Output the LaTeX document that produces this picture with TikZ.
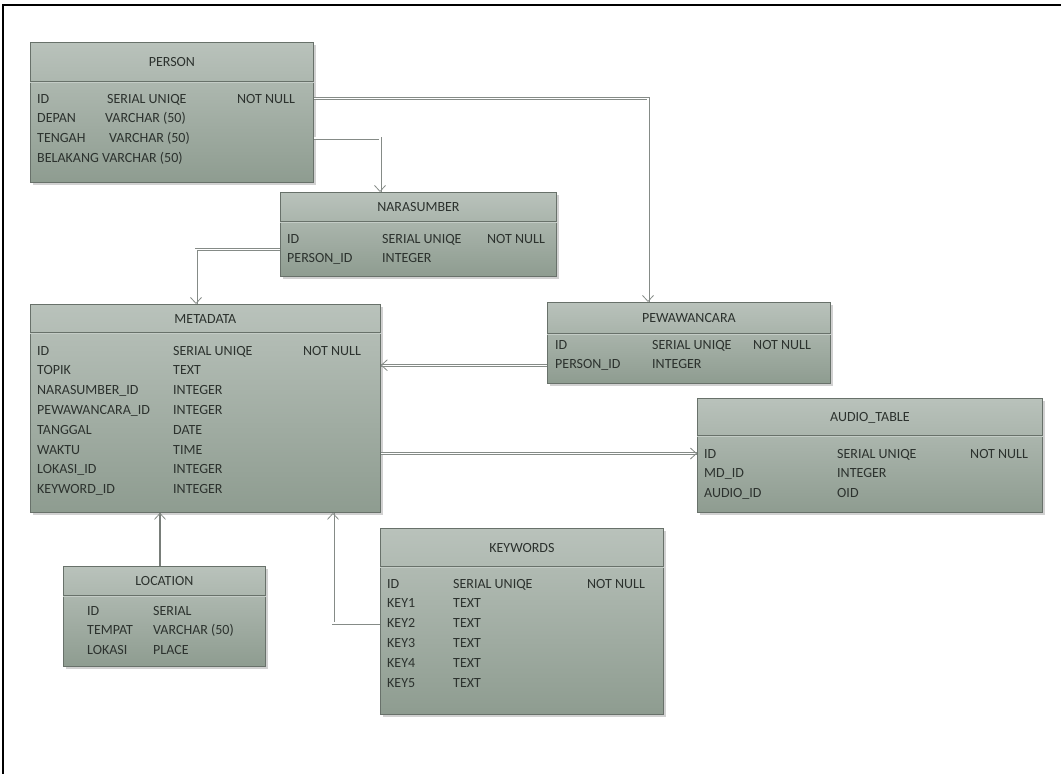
\documentclass[tikz,border=0pt]{standalone}
\usepackage{fontspec}
\setmainfont{Carlito}
\usetikzlibrary{arrows.meta,shadows}

\definecolor{tblTop}{HTML}{B9C2BB}
\definecolor{tblBot}{HTML}{8E9C90}
\definecolor{tblEdge}{HTML}{68716A}
\definecolor{sepLight}{HTML}{C4CCC6}
\definecolor{lnk}{HTML}{858B87}
\definecolor{txt}{HTML}{2C322E}

\tikzset{
  tbl/.style={draw=tblEdge, line width=0.8pt, top color=tblTop, bottom color=tblBot,
    inner sep=0pt, drop shadow={shadow xshift=3pt, shadow yshift=-3pt, fill=black!45, opacity=0.4}},
  fld/.style={anchor=base west, inner sep=0pt, text=txt, font=\fontsize{14}{16}\selectfont},
  ttl/.style={anchor=base, inner sep=0pt, text=txt, font=\fontsize{14}{16}\selectfont},
  link/.style={draw=lnk, line width=3pt, line join=miter, postaction={draw=white, line width=1.4pt}},
  solidlink/.style={draw=lnk!90!black, line width=1.6pt},
  tip/.style={draw=lnk, line width=0.8pt, -{Straight Barb[length=6pt,width=11pt]}},
}

% box of one table: name, x, y, width, height, header height, title
\newcommand{\erbox}[7]{%
  \node[tbl, anchor=north west, minimum width=#4pt, minimum height=#5pt] (#1) at (#2,#3) {};
  \draw[tblEdge, line width=0.8pt] ([yshift=-#6pt]#1.north west) -- ([yshift=-#6pt]#1.north east);
  \draw[sepLight, line width=0.8pt] ([yshift=-#6pt-1.6pt]#1.north west) -- ([yshift=-#6pt-1.6pt]#1.north east);
  \node[ttl] (#1-title) at ([yshift=-#6pt/2-5pt]#1.north) {#7};
}

\begin{document}
\begin{tikzpicture}[x=1pt,y=-1pt]
  \useasboundingbox (0,0) rectangle (1061,774);
  % frame
  \draw[line width=2.5pt] (3,774) -- (3,5) -- (1061,5);

  % Tables
  \erbox{person}{30}{42}{283}{140}{39}{PERSON}
  \erbox{nara}{280}{192}{276}{84}{29}{NARASUMBER}
  \erbox{meta}{30}{304}{350}{208}{28}{METADATA}
  \erbox{pewa}{547}{302}{283}{81}{31}{PEWAWANCARA}
  \erbox{audio}{697}{398}{345}{114}{37}{AUDIO\_TABLE}
  \erbox{loc}{63}{566}{202}{100}{29}{LOCATION}
  \erbox{kw}{380}{528}{283}{186}{38}{KEYWORDS}

  % PERSON fields
  \node[fld] (person-a0) at (37,103) {ID};
  \node[fld] (person-b0) at (107,103) {SERIAL UNIQE};
  \node[fld] (person-nn) at (237,103) {NOT NULL};
  \node[fld] (person-a1) at (37,122.8) {DEPAN};
  \node[fld] (person-b1) at (105,122.8) {VARCHAR (50)};
  \node[fld] (person-a2) at (37,142.6) {TENGAH};
  \node[fld] (person-b2) at (109,142.6) {VARCHAR (50)};
  \node[fld] (person-a3) at (37,162.4) {BELAKANG VARCHAR (50)};

  % NARASUMBER fields
  \foreach \k/\t [count=\i from 0] in {ID/SERIAL UNIQE, PERSON\_ID/INTEGER}{
    \node[fld] (nara-a\i) at (287,243+19.8*\i) {\k};
    \node[fld] (nara-b\i) at (382,243+19.8*\i) {\t};
  }
  \node[fld] (nara-nn) at (487,243) {NOT NULL};

  % METADATA fields
  \foreach \k/\t [count=\i from 0] in {ID/SERIAL UNIQE, TOPIK/TEXT, NARASUMBER\_ID/INTEGER,
      PEWAWANCARA\_ID/INTEGER, TANGGAL/DATE, WAKTU/TIME, LOKASI\_ID/INTEGER, KEYWORD\_ID/INTEGER}{
    \node[fld] (meta-a\i) at (37,355+19.8*\i) {\k};
    \node[fld] (meta-b\i) at (173,355+19.8*\i) {\t};
  }
  \node[fld] (meta-nn) at (303,355) {NOT NULL};

  % PEWAWANCARA fields
  \foreach \k/\t [count=\i from 0] in {ID/SERIAL UNIQE, PERSON\_ID/INTEGER}{
    \node[fld] (pewa-a\i) at (555,349+19.8*\i) {\k};
    \node[fld] (pewa-b\i) at (652,349+19.8*\i) {\t};
  }
  \node[fld] (pewa-nn) at (753,349) {NOT NULL};

  % AUDIO_TABLE fields
  \foreach \k/\t [count=\i from 0] in {ID/SERIAL UNIQE, MD\_ID/INTEGER, AUDIO\_ID/OID}{
    \node[fld] (audio-a\i) at (704,458+19.8*\i) {\k};
    \node[fld] (audio-b\i) at (837,458+19.8*\i) {\t};
  }
  \node[fld] (audio-nn) at (970,458) {NOT NULL};

  % LOCATION fields
  \foreach \k/\t [count=\i from 0] in {ID/SERIAL, TEMPAT/VARCHAR (50), LOKASI/PLACE}{
    \node[fld] (loc-a\i) at (87,615+19.8*\i) {\k};
    \node[fld] (loc-b\i) at (153,615+19.8*\i) {\t};
  }

  % KEYWORDS fields
  \foreach \k/\t [count=\i from 0] in {ID/SERIAL UNIQE, KEY1/TEXT, KEY2/TEXT, KEY3/TEXT, KEY4/TEXT, KEY5/TEXT}{
    \node[fld] (kw-a\i) at (387,588+19.8*\i) {\k};
    \node[fld] (kw-b\i) at (453,588+19.8*\i) {\t};
  }
  \node[fld] (kw-nn) at (587,588) {NOT NULL};

  % Relations
  \coordinate (pewa-in) at ([xshift=101pt]pewa.north west);
  \coordinate (nara-in) at ([xshift=100pt]nara.north west);
  \coordinate (nara-out) at ([yshift=-15pt]nara.west);
  \coordinate (meta-in1) at ([xshift=166pt]meta.north west);
  \coordinate (meta-in2) at ([xshift=130pt]meta.south west);
  \coordinate (meta-in3) at ([xshift=303pt]meta.south west);
  \coordinate (loc-out) at ([xshift=97pt]loc.north west);

  \draw[link] (person.east |- person-nn.west) -- (pewa-in |- person-nn.west) -- (pewa-in);
  \draw[tip] ([yshift=1pt]pewa-in) -- (pewa-in);

  \draw[link] (person.east |- person-a2.west) -- (nara-in |- person-a2.west) -- (nara-in);
  \draw[tip] ([yshift=1pt]nara-in) -- (nara-in);

  \draw[link] (nara-out) -- (meta-in1 |- nara-out) -- (meta-in1);
  \draw[tip] ([yshift=1pt]meta-in1) -- (meta-in1);

  \draw[link] (pewa.west |- pewa-a1.west) -- (meta.east |- pewa-a1.west);
  \draw[tip] ([xshift=1pt]meta.east |- pewa-a1.west) -- (meta.east |- pewa-a1.west);

  \draw[link] (meta.east |- audio-a0.west) -- (audio.west |- audio-a0.west);
  \draw[tip] ([xshift=-1pt]audio.west |- audio-a0.west) -- (audio.west |- audio-a0.west);

  \draw[solidlink] (loc-out) -- (meta-in2);
  \draw[tip] ([yshift=-1pt]meta-in2) -- (meta-in2);

  \draw[link] (kw.west |- kw-a2.west) -- (meta-in3 |- kw-a2.west) -- (meta-in3);
  \draw[tip] ([yshift=-1pt]meta-in3) -- (meta-in3);
\end{tikzpicture}
\end{document}
